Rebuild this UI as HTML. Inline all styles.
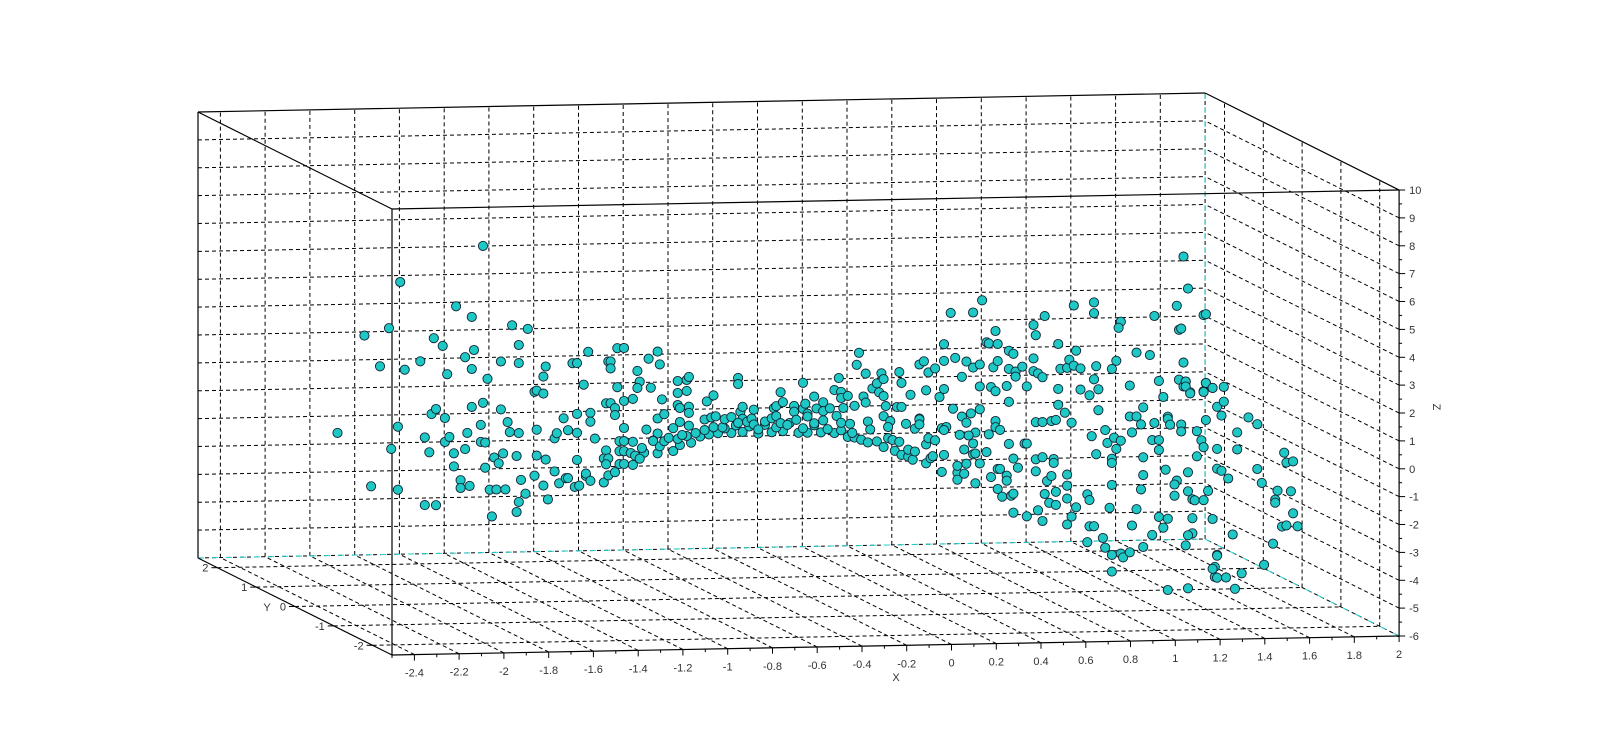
<!DOCTYPE html>
<html><head><meta charset="utf-8"><style>
html,body{margin:0;padding:0;background:#fff}
svg{display:block}
text{font-family:"Liberation Sans",Arial,sans-serif;font-size:11px;fill:#333}
</style></head><body>
<svg id="chart" width="1600" height="749" viewBox="0 0 1600 749" xmlns="http://www.w3.org/2000/svg">
<rect width="1600" height="749" fill="#fff"/>
<g id="grid"></g>
<g id="edges"></g>
<g id="ticks"></g>
<g id="points"></g>
<text x="896" y="681" text-anchor="middle">X</text>
<text x="267" y="611" text-anchor="middle">Y</text>
<text x="1433" y="407" text-anchor="middle" transform="rotate(90 1433 407)">Z</text>
</svg>
<script>
const xTickValues = [-2.4,-2.2,-2,-1.8,-1.6,-1.4,-1.2,-1,-0.8,-0.6,-0.4,-0.2,0,0.2,0.4,0.6,0.8,1,1.2,1.4,1.6,1.8,2];
const yTickValues = [-2,-1,0,1,2];
const zTickValues = [-6,-5,-4,-3,-2,-1,0,1,2,3,4,5,6,7,8,9,10];
const xVals = [
-1.66,-2.03,-1.78,-1.71,-2.19,-2.08,-1.53,-1.46,-1.88,-1.84,-1.50,-1.70,-1.74,-1.71,-2.12,-2.01,-1.94,-1.82,-1.64,-1.58,-1.50,-1.38,-1.39,-1.43,-1.42,-1.39,-1.19,-1.26,-1.24,-1.21,
-1.06,-1.10,-1.09,-1.09,-1.06,-1.11,-1.09,-1.07,-1.07,-2.31,-2.04,-2.07,-2.16,-2.04,-1.92,-1.87,-1.89,-1.87,-1.83,-1.92,-1.90,-1.83,-1.81,-1.79,-1.79,-1.76,-1.76,-1.72,-1.74,-1.73,
-1.71,-1.66,-1.67,-1.67,-1.65,-1.65,-1.61,-1.59,-1.63,-1.60,-1.56,-1.62,-1.58,-1.55,-1.54,-1.50,-1.57,-1.51,-1.42,-1.42,-1.38,-1.43,-1.49,-1.39,-1.47,-1.50,-1.51,-1.37,
-1.34,-1.33,-1.28,-1.24,-1.30,-1.24,-1.18,-1.18,-1.16,-1.34,-1.32,-1.29,-1.28,-1.25,-1.23,-1.24,-1.20,-1.20,-1.18,-1.12,-1.10,-1.07,-1.11,-1.12,-1.10,-1.11,-1.05,-1.05,-1.05,
-0.88,-0.92,-0.87,-0.97,-0.96,-0.97,-0.91,-0.99,-0.86,-1.03,-1.03,-1.03,-1.03,-1.03,-1.03,-0.88,-0.85,-0.93,-0.88,-0.90,-0.99,-1.00,-0.98,-0.94,-0.99,-0.96,
-0.88,-0.87,-0.85,-0.81,-0.78,-0.73,-0.69,-0.65,-0.61,-0.55,-0.50,-0.43,-0.37,-0.32,-0.25,-0.21,-0.15,-0.09,-0.03,0.00,
-0.95,-0.90,-0.83,-0.79,-0.75,-0.71,-0.67,-0.63,-0.58,-0.53,-0.47,-0.40,-0.35,-0.29,-0.23,-0.18,-0.12,-0.06,-0.01,0.03,
-0.79,-0.75,-0.74,-0.79,-0.75,-0.79,-0.78,-0.74,-0.74,-0.78,-0.81,-0.77,-0.74,
-0.66,-0.63,-0.67,-0.64,-0.62,-0.59,-0.58,-0.55,-0.52,-0.52,-0.51,-0.50,-0.50,-0.52,-0.48,-0.46,-0.45,-0.45,-0.43,
-0.40,-0.37,-0.36,-0.35,-0.33,-0.32,-0.35,-0.33,-0.30,-0.27,-0.27,-0.26,-0.23,-0.23,-0.22,-0.21,-0.21,-0.18,-0.18,-0.17,-0.14,-0.14,-0.14,
-0.11,-0.09,-0.08,-0.06,-0.07,-0.06,-0.05,-0.03,-0.06,-0.02,0.00,0.01,0.02,0.05,0.04,0.05,0.06,0.07,0.08,0.10,0.12,0.13,0.11,0.13,0.14,0.13,0.16,0.15,0.19,0.20,0.21,0.21,0.23,0.25,0.27,0.29,0.29,
0.06,0.10,0.13,0.15,0.17,0.20,0.18,0.21,0.24,0.26,0.24,0.27,
1.49,0.57,0.43,0.53,0.98,1.07,1.07,0.85,0.63,0.80,0.81,1.19,1.18,1.34,1.44,1.56,1.45,0.40,0.59,0.60,0.64,0.69,0.71,0.91,0.99,1.26,1.32,
0.31,0.33,0.36,0.40,0.45,0.50,0.53,0.56,0.62,0.64,0.69,0.72,0.72,0.75,0.80,0.80,0.82,0.84,0.92,0.95,0.96,0.98,1.01,1.08,1.07,1.15,1.17,
0.48,0.56,0.61,0.63,0.68,0.77,0.32,0.40,0.38,0.91,1.01,1.05,1.09,1.23,1.36,1.45,1.48,1.47,1.50,1.56,1.57,1.60,1.38,
0.69,0.91,0.94,0.97,0.88,0.90,0.81,0.84,1.09,0.44,0.48,0.50,0.52,0.56,0.63,0.63,0.65,0.60,0.54,0.51,0.47,0.39,0.41,0.40,
0.29,0.29,0.32,0.33,0.36,0.32,0.34,0.35,0.40,0.39,0.46,0.46,0.49,0.46,0.50,0.49,0.53,0.53,0.54,0.56,0.59,0.54,
0.69,0.76,0.77,0.71,0.73,0.64,0.65,0.61,0.68,0.68,0.64,0.66,0.70,0.71,0.71,0.77,
0.81,0.84,0.89,0.89,0.81,0.86,0.88,0.90,0.95,0.95,0.85,0.87,0.90,0.95,0.99,0.97,0.95,0.82,0.84,
1.06,1.12,1.13,1.16,1.19,1.17,1.08,1.15,1.15,1.15,1.04,1.05,1.14,1.05,1.07,1.04,1.11,1.12,1.15,1.19,1.20,1.23,1.15,
1.24,1.23,1.26,1.29,1.28,1.34,1.33,1.36,1.36,1.29,1.29,1.28,1.39,1.26,1.24,1.33,1.36,1.38,1.40,1.29,
1.40,1.40,1.41,1.46,1.46,1.53,1.55,1.56,1.53,1.49,1.44,1.43,1.43,1.49,1.51,1.52,1.56,1.58,1.51,1.51,1.49,1.48,1.49,1.40,1.61,1.61,1.62,
1.47,1.57,1.46,1.47,1.57,1.60,1.65,1.56,1.48,1.48,1.50,1.62,1.65,1.64,1.76,1.80,1.71,1.62,1.71,1.57,1.62,1.64,1.67,1.80,1.82,
1.92,1.93,1.96,1.89,1.95,1.88,1.88,1.96,1.91,1.93,1.98,1.87,1.60,1.69,1.62,1.83,1.60,1.62,1.66,1.73,1.70
];
const zVals = [
6.81,5.57,4.66,4.27,3.67,3.92,3.94,3.80,3.53,3.25,3.23,3.08,2.83,2.40,2.56,2.42,2.71,2.23,2.04,2.65,2.58,2.44,2.08,1.54,1.58,1.47,2.94,2.54,2.54,1.76,
3.05,2.58,2.58,2.33,1.65,1.08,1.08,0.90,0.65,0.20,0.38,-0.41,-1.74,-1.88,-2.45,-2.46,0.81,0.99,0.66,-0.02,-0.56,-0.20,-0.02,-0.61,-1.08,-1.58,-1.86,-1.79,-0.47,0.11,
1.04,1.18,0.39,-0.22,-0.25,-1.15,-0.79,-1.00,-1.94,-1.94,-1.94,-2.90,0.93,0.47,0.11,0.07,-0.65,-0.75,0.18,-0.75,-0.90,-1.47,-1.61,-1.83,-2.11,-2.40,-2.76,-2.33,
-0.14,0.04,0.14,0.04,0.57,0.72,0.75,0.43,-0.18,-1.33,-1.76,-1.58,-1.58,-1.90,-1.86,-0.93,-1.51,-1.43,-1.69,-1.76,-1.51,-1.40,-0.61,-0.90,-0.90,-1.11,-0.29,-0.65,-1.11,
2.90,2.65,2.44,2.22,1.83,1.61,1.61,1.22,1.18,3.05,1.15,0.18,-0.29,-0.65,-1.11,0.50,0.65,0.11,-0.04,-0.29,-0.32,-0.72,-0.82,-0.72,-1.15,-0.93,
-0.75,-0.50,-0.32,-0.68,-0.47,-0.39,-0.18,-0.11,-0.07,-0.07,-0.04,-0.11,-0.07,-0.04,-0.11,-0.11,-0.11,-0.14,-0.29,-0.32,
-0.55,-0.30,-0.20,-0.25,-0.15,-0.05,0.05,0.15,0.10,0.20,0.15,0.20,0.10,0.25,0.05,0.15,0.00,-0.05,-0.15,-0.40,
1.83,1.86,1.97,1.40,1.47,0.97,0.86,0.90,0.68,0.36,0.14,-0.11,0.22,
1.08,1.29,0.43,0.50,0.54,0.14,0.43,0.50,1.90,1.68,0.68,0.86,0.43,0.29,0.32,0.43,0.75,0.22,0.04,
0.32,0.43,0.79,0.86,1.36,1.00,0.50,0.25,0.18,0.86,0.65,0.36,0.75,1.68,0.93,0.57,0.47,0.22,1.18,0.75,0.97,0.65,0.32,
0.75,1.40,0.47,1.33,1.83,1.11,0.75,1.18,0.22,0.18,0.82,2.29,2.72,1.97,1.15,0.93,0.25,-0.04,1.43,1.61,1.97,1.76,1.29,1.15,0.79,0.43,0.25,0.04,0.75,2.00,1.61,0.75,0.14,1.18,-0.04,0.32,2.26,
-0.50,-0.47,-0.68,-0.36,-0.43,-0.50,-0.82,-0.97,-1.04,-1.15,-0.79,-0.86,
4.80,4.52,4.09,4.09,4.27,4.37,3.98,3.91,3.41,3.60,3.23,3.66,3.44,3.84,4.19,3.84,3.33,2.97,3.01,2.97,2.94,2.69,2.58,2.90,2.65,2.54,2.44,
2.37,1.97,2.11,2.37,2.47,2.33,2.11,2.22,2.11,2.33,2.04,1.94,1.76,2.11,2.40,1.94,1.86,1.72,2.01,2.04,2.33,2.11,2.01,2.08,1.61,1.97,2.26,
1.79,1.43,1.40,1.25,1.43,1.40,1.33,1.36,1.08,1.29,1.25,1.04,1.25,1.36,1.51,1.54,1.47,1.29,1.08,1.11,1.40,1.22,0.93,
0.86,0.72,0.43,0.07,0.14,0.18,0.11,0.11,0.50,0.65,0.36,0.14,0.47,0.61,0.18,-0.04,-0.14,-0.29,-0.22,-0.32,-0.29,-0.04,0.00,-0.11,
0.29,0.11,-0.61,-0.39,-0.47,-1.29,-1.11,-1.04,-1.00,-1.61,-1.65,-1.90,-1.69,-1.40,-1.33,-0.82,-0.61,-1.00,-0.97,-1.33,-0.93,-2.04,
-0.65,-0.65,-0.65,-1.18,-1.51,-1.54,-1.54,-1.83,-1.79,-1.97,-2.26,-2.54,-2.51,-2.44,-3.12,-3.26,
-1.22,-1.15,-1.22,-1.36,-1.65,-2.01,-1.83,-2.40,-1.79,-2.19,-2.47,-2.79,-2.87,-2.65,-2.97,-3.30,-3.58,-3.05,-3.44,
-0.43,-0.22,-0.68,-0.50,-0.61,-0.90,-1.08,-1.25,-1.40,-2.19,-2.51,-2.72,-3.01,-3.66,-3.66,-4.23,-4.09,-4.44,-4.70,-4.66,-4.80,-4.62,-5.30,
-0.32,0.25,0.25,0.57,-0.04,0.00,-0.61,-0.61,-0.97,-1.22,-1.86,-2.37,-1.68,-3.08,-3.66,-4.01,-3.37,-3.76,-3.44,-4.44,
0.22,0.14,-0.07,-0.07,-0.32,-0.32,-0.65,-0.90,-1.22,-1.79,-2.08,-2.22,-2.62,-2.47,-2.76,-2.80,-2.80,-2.47,-3.44,-3.98,-4.05,-4.41,-5.95,-6.00,-5.20,-5.56,-4.77,
5.95,3.87,3.37,2.15,1.40,1.22,1.25,1.08,1.47,1.29,1.04,0.54,0.72,0.22,0.14,-0.11,-0.39,-0.97,-1.00,0.07,-1.68,-1.76,-2.04,-1.72,-2.22,
-1.15,-1.51,-1.47,-2.51,-2.54,-2.83,-2.94,-3.33,-3.80,-3.76,-3.80,-4.41,-3.48,-4.05,-4.80,-5.16,-5.27,-5.59,-5.59,-5.45,-6.00
];
const depthY = 0;

const NS = "http://www.w3.org/2000/svg";
const X0=-2.5, X1=2, Y0=-2.5, Y1=2.5, Z0=-6, Z1=10;
function P(x,y,z){
  return [392 + (x-X0)*223.8 - (y-Y0)*38.8,
          655 - (x-X0)*4.22 - (y-Y0)*19.4 - (z-Z0)*27.875];
}
function line(g,a,b,stroke,dash,w){
  const l=document.createElementNS(NS,'line');
  l.setAttribute('x1',a[0].toFixed(1));l.setAttribute('y1',a[1].toFixed(1));
  l.setAttribute('x2',b[0].toFixed(1));l.setAttribute('y2',b[1].toFixed(1));
  l.setAttribute('stroke',stroke);l.setAttribute('stroke-width',w||1);
  if(dash)l.setAttribute('stroke-dasharray',dash);
  g.appendChild(l);return l;
}
function txt(g,x,y,s,anchor){
  const t=document.createElementNS(NS,'text');
  t.setAttribute('x',x.toFixed(1));t.setAttribute('y',y.toFixed(1));
  if(anchor)t.setAttribute('text-anchor',anchor);
  t.textContent=s;g.appendChild(t);return t;
}
function fmt(v){let s=parseFloat(v.toFixed(1)).toString();return s==="-0"?"0":s;}

const grid=document.getElementById('grid');
const D="4,3";
// back wall (y=Y1)
xTickValues.forEach(x=>{const l=line(grid,P(x,Y1,Z0),P(x,Y1,Z1),'#000',D);

});
zTickValues.forEach(z=>{if(z===Z1)return;const l=line(grid,P(X0,Y1,z),P(X1,Y1,z),'#000',D);

});
// right wall (x=X1)
yTickValues.forEach(y=>{const l=line(grid,P(X1,y,Z0),P(X1,y,Z1),'#000',D);

});
zTickValues.forEach(z=>{if(z===Z1||z===Z0)return;const l=line(grid,P(X1,Y0,z),P(X1,Y1,z),'#000',D);

});
// floor (z=Z0)
xTickValues.forEach(x=>{const l=line(grid,P(x,Y0,Z0),P(x,Y1,Z0),'#000',D);

});
yTickValues.forEach(y=>{const l=line(grid,P(X0,y,Z0),P(X1,y,Z0),'#000',D);

});

// edges
const edges=document.getElementById('edges');
[[P(X1,Y1,Z1),P(X1,Y1,Z0)],[P(X0,Y1,Z0),P(X1,Y1,Z0)],[P(X1,Y1,Z0),P(X1,Y0,Z0)]].forEach(e=>{
  const l=line(edges,e[0],e[1],'#20d0d0',"6,8");
  
  
});
[[P(X0,Y1,Z1),P(X1,Y1,Z1)],[P(X1,Y1,Z1),P(X1,Y0,Z1)],[P(X1,Y0,Z1),P(X0,Y0,Z1)],[P(X0,Y0,Z1),P(X0,Y1,Z1)],
 [P(X0,Y1,Z1),P(X0,Y1,Z0)],[P(X0,Y0,Z1),P(X0,Y0,Z0)],[P(X0,Y1,Z0),P(X0,Y0,Z0)],[P(X0,Y0,Z0),P(X1,Y0,Z0)],
 [P(X1,Y0,Z1),P(X1,Y0,Z0)]].forEach(e=>{
  const l=line(edges,e[0],e[1],'#000',null,1.2);
  
  
});

// ticks
const ticks=document.getElementById('ticks');
xTickValues.forEach(x=>{const p=P(x,Y0,Z0);
  const l=line(ticks,p,[p[0],p[1]+6],'#000');
  
  
  const t=txt(ticks,p[0],p[1]+22,fmt(x),'middle');
  
  
  const m=P(x-0.1,Y0,Z0);
  const lm=line(ticks,m,[m[0],m[1]+3],'#000');
  
  
});
zTickValues.forEach(z=>{const p=P(X1,Y0,z);
  const l=line(ticks,p,[p[0]+6,p[1]],'#000');
  
  
  const t=txt(ticks,p[0]+10,p[1]+4,fmt(z),'start');
  
  
  if(z<Z1){const m=P(X1,Y0,z+0.5);
    const lm=line(ticks,m,[m[0]+3,m[1]],'#000');
    
    }
});
yTickValues.forEach(y=>{const p=P(X0,y,Z0);
  const l=line(ticks,p,[p[0]-6,p[1]],'#000');
  
  
  const t=txt(ticks,p[0]-9,p[1]+4,fmt(y),'end');
  
  
});

// points
const pts=document.getElementById('points');
const n=Math.min(xVals.length,zVals.length);
for(let i=0;i<n;i++){
  const p=P(xVals[i],depthY,zVals[i]);
  const c=document.createElementNS(NS,'circle');
  c.setAttribute('cx',p[0].toFixed(1));c.setAttribute('cy',p[1].toFixed(1));
  c.setAttribute('r','4.6');c.setAttribute('fill','#1ec8c4');
  c.setAttribute('stroke','#123');c.setAttribute('stroke-width','0.9');
  
  
  pts.appendChild(c);
}
</script>
</body></html>
